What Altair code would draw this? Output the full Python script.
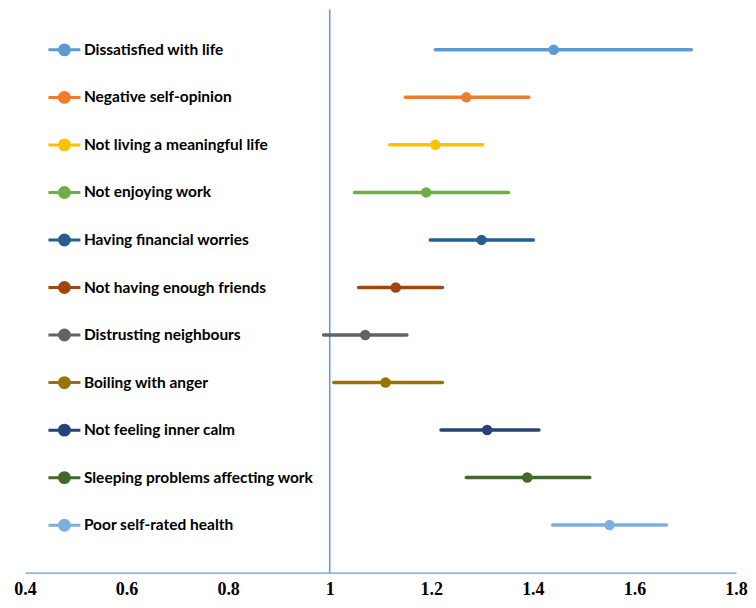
import altair as alt
import pandas as pd

labels = [
    "Dissatisfied with life",
    "Negative self-opinion",
    "Not living a meaningful life",
    "Not enjoying work",
    "Having financial worries",
    "Not having enough friends",
    "Distrusting neighbours",
    "Boiling with anger",
    "Not feeling inner calm",
    "Sleeping problems affecting work",
    "Poor self-rated health",
]
estimate = [1.441, 1.269, 1.208, 1.190, 1.299, 1.130, 1.070, 1.110, 1.310, 1.389, 1.551]
ci_low = [1.208, 1.149, 1.118, 1.049, 1.198, 1.057, 0.988, 1.008, 1.219, 1.269, 1.439]
ci_high = [1.712, 1.392, 1.301, 1.352, 1.401, 1.222, 1.152, 1.222, 1.412, 1.512, 1.663]
colors = ["#5B9BD5", "#ED7D31", "#FFC000", "#70AD47", "#255E91", "#9E480E",
          "#636363", "#997300", "#264478", "#43682B", "#7CAFDD"]
x_ticks = [0.4, 0.6, 0.8, 1.0, 1.2, 1.4, 1.6, 1.8]

n = len(labels)
df = pd.DataFrame({
    "label": labels,
    "est": estimate,
    "lo": ci_low,
    "hi": ci_high,
    "row": [n - i for i in range(n)],
})

scale = alt.Scale(domain=labels, range=colors)
legend = alt.Legend(
    title=None, orient="none", legendX=22, legendY=17,
    symbolType="M-1,0L1,0M0.31,0A0.31,0.31,0,1,1,-0.31,0A0.31,0.31,0,1,1,0.31,0Z",
    symbolSize=1024, symbolStrokeWidth=3, symbolOpacity=1,
    clipHeight=47, rowPadding=0.6, padding=0,
    labelFont="Lato", labelFontWeight="bold", labelFontSize=15.5,
    labelColor="black", labelOffset=2, labelLimit=500,
)

xscale = alt.Scale(domain=[0.4, 1.8], nice=False, zero=False)
yscale = alt.Scale(domain=[0, 11.85], nice=False, zero=True)

xaxis = alt.Axis(
    values=x_ticks, format="~g", title=None, grid=False, ticks=False,
    domainColor="#5B9BD5", domainWidth=1.2, labelFlush=False,
    labelFont="Liberation Serif", labelFontWeight="bold", labelFontSize=18,
    labelColor="black", labelPadding=8,
)

base = alt.Chart(df)

ci = base.mark_rule(strokeWidth=3.5, strokeCap="round").encode(
    x=alt.X("lo:Q", scale=xscale, axis=xaxis),
    x2="hi:Q",
    y=alt.Y("row:Q", scale=yscale, axis=None),
    stroke=alt.Stroke("label:N", scale=scale, legend=legend),
)

pts = base.mark_point(filled=True, shape="circle", size=110, opacity=1, strokeWidth=0).encode(
    x=alt.X("est:Q", scale=xscale, axis=xaxis),
    y=alt.Y("row:Q", scale=yscale, axis=None),
    fill=alt.Fill("label:N", scale=scale, legend=legend),
    stroke=alt.Stroke("label:N", scale=scale, legend=legend),
)

ref = alt.Chart(pd.DataFrame({"ref": [1.0]})).mark_rule(color="#5B9BD5", strokeWidth=1.5).encode(
    x=alt.X("ref:Q", scale=xscale, axis=xaxis)
)

chart = alt.layer(ref, ci, pts).properties(
    width=712, height=564, background="white",
    padding={"left": 5, "top": 0, "right": 0, "bottom": 0},
).configure_view(strokeWidth=0)

chart.save("out.html", embed_options={"renderer": "svg", "actions": False})
